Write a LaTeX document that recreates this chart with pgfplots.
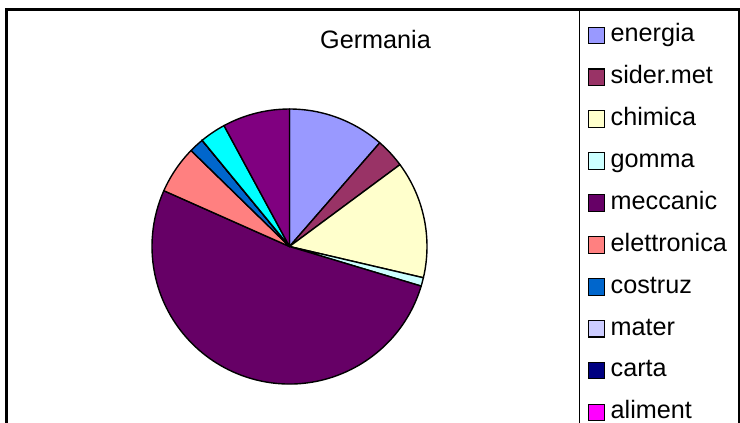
\documentclass[border=0pt]{standalone}
\usepackage{fontspec}
\setmainfont{Liberation Sans}
\usepackage{pgfplots}
\usepackage{pgfplotstable}
\pgfplotsset{compat=1.18}

\definecolor{slc0}{HTML}{9999FF}
\definecolor{slc1}{HTML}{993366}
\definecolor{slc2}{HTML}{FFFFCC}
\definecolor{slc3}{HTML}{CCFFFF}
\definecolor{slc4}{HTML}{660066}
\definecolor{slc5}{HTML}{FF8080}
\definecolor{slc6}{HTML}{0066CC}
\definecolor{slc7}{HTML}{CCCCFF}
\definecolor{slc8}{HTML}{000080}
\definecolor{slc9}{HTML}{FF00FF}
\definecolor{slc10}{HTML}{FFFF00}
\definecolor{slc11}{HTML}{00FFFF}
\definecolor{slc12}{HTML}{800080}

% share of each sector (percent), clockwise from 12 o'clock
\pgfplotstableread{
label value
energia 11.4
sider.met 3.45
chimica 13.8
gomma 1.0
meccanic 52.0
elettronica 5.65
costruz 1.75
mater 0
carta 0
aliment 0
altro1 0
altro2 3.05
altro3 7.9
}\piedata

\newcommand{\chartfont}{\fontsize{25.2bp}{30bp}\selectfont}

\begin{document}
\xdef\cumang{90}%
\pgfplotsforeachungrouped \i in {0,...,12}{%
  \pgfplotstablegetelem{\i}{value}\of\piedata
  \pgfmathsetmacro\endang{\cumang-3.6*\pgfplotsretval}%
  \expandafter\xdef\csname sA\i\endcsname{\cumang}%
  \expandafter\xdef\csname eA\i\endcsname{\endang}%
  \xdef\cumang{\endang}%
}%
\begin{tikzpicture}
\path[use as bounding box] (0,0) rectangle (740bp,423bp);
\begin{axis}[
  at={(0,0)}, anchor=south west,
  x=1bp, y=1bp, xmin=0, xmax=740, ymin=0, ymax=423,
  y dir=reverse, enlargelimits=false, hide axis, scale only axis,
  legend image code/.code={\draw[#1, draw=black, line width=1.1bp] (0bp,-9bp) rectangle (15.6bp,7.6bp);},
  legend style={at={(axis cs:588,21.7)}, anchor=north west, draw=none, fill=none,
    inner sep=0pt, outer sep=0pt, row sep=15.9bp, column sep=6bp,
    font=\chartfont,
    nodes={inner sep=0pt, text height=20bp, text depth=6bp}},
  legend cell align=left,
]
\pgfplotsinvokeforeach{0,...,12}{
  \filldraw[fill=slc#1, draw=black, line width=1.4bp, line join=round]
    (axis cs:289.5,246.5) --
    (axis cs:{289.5+137.5*cos(\csname sA#1\endcsname)},{246.5-137.5*sin(\csname sA#1\endcsname)})
    arc[start angle=\csname sA#1\endcsname, end angle=\csname eA#1\endcsname, radius=137.5bp] -- cycle;
}
\addlegendimage{fill=slc0}\addlegendentry{energia}
\addlegendimage{fill=slc1}\addlegendentry{sider.met}
\addlegendimage{fill=slc2}\addlegendentry{chimica}
\addlegendimage{fill=slc3}\addlegendentry{gomma}
\addlegendimage{fill=slc4}\addlegendentry{meccanic}
\addlegendimage{fill=slc5}\addlegendentry{elettronica}
\addlegendimage{fill=slc6}\addlegendentry{costruz}
\addlegendimage{fill=slc7}\addlegendentry{mater}
\addlegendimage{fill=slc8}\addlegendentry{carta}
\addlegendimage{fill=slc9}\addlegendentry{aliment}
\node[anchor=base, font=\chartfont, inner sep=0pt] at (axis cs:375.5,48.3) {Germania};
\draw[line width=1bp] (axis cs:579.5,9) -- (axis cs:579.5,430);
\draw[line width=2.2bp] (axis cs:6.5,430) -- (axis cs:6.5,9.5) -- (axis cs:738.8,9.5) -- (axis cs:738.8,430);
\end{axis}
\end{tikzpicture}
\end{document}
